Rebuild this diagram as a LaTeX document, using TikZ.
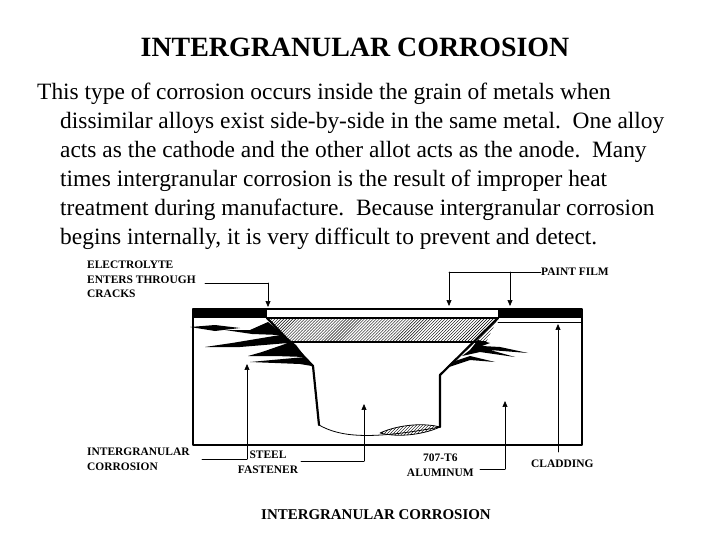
\documentclass[tikz,border=0pt]{standalone}
\usepackage{fontspec}
\setmainfont{Liberation Serif}
\usetikzlibrary{arrows.meta, patterns, positioning}
\tikzset{
  callout/.style={font=\fontsize{11.5}{14.5}\selectfont\bfseries, inner sep=0pt, align=left},
  leader/.style={line width=0.7pt},
  pointer/.style={line width=0.7pt, -{Triangle[length=6pt,width=5pt]}},
  bodyline/.style={font=\fontsize{23.5}{28}\selectfont, anchor=base west, inner sep=0pt}
}
\begin{document}
\begin{tikzpicture}[x=1bp, y=-1bp, line cap=round, line join=round]
    \useasboundingbox (0,0) rectangle (720,540);

    % heading and text
    \node[font=\fontsize{28}{30}\selectfont\bfseries, inner sep=0pt] (title) at (355,47) {INTERGRANULAR CORROSION};
    \node[bodyline] (l1) at (37,100) {This type of corrosion occurs inside the grain of metals when};
    \node[bodyline] (l2) at (60,129) {dissimilar alloys exist side-by-side in the same metal.\ \ One alloy};
    \node[bodyline] (l3) at (60,158) {acts as the cathode and the other allot acts as the anode.\ \ Many};
    \node[bodyline] (l4) at (60,187) {times intergranular corrosion is the result of improper heat};
    \node[bodyline] (l5) at (60,216) {treatment during manufacture.\ \ Because intergranular corrosion};
    \node[bodyline] (l6) at (60,245) {begins internally, it is very difficult to prevent and detect.};

    % the hole
    \coordinate (H1) at (267,318);
    \coordinate (H2) at (313,366);
    \coordinate (H3) at (319,425);
    \coordinate (H4) at (440,427);
    \coordinate (H5) at (440,375);
    \coordinate (H6) at (498,318);

    % hatched filler
    \fill[pattern=north east lines] (H1) -- (H6) -- (486,342) -- (285,342) -- cycle;
    \draw[line width=1.2pt] (285,342) -- (486,342);
    \fill[pattern=north east lines] (380,433) .. controls (400,424) and (425,423) .. (H4)
        .. controls (425,434) and (400,438) .. (380,433);
    \draw[line width=0.8pt] (380,433) .. controls (400,424) and (425,423) .. (H4)
        .. controls (425,434) and (400,438) .. (380,433);

    % hole walls
    \draw[line width=2.2pt] (H1) -- (H2) -- (H3);
    \draw[line width=0.8pt] (H3) .. controls (340,437) and (370,440) .. (H4);
    \draw[line width=2.2pt] (H4) -- (H5) -- (H6);

    % cracks left
    \fill (268,322) -- (250,330) -- (225,330) -- (252,334) -- (280,335) -- (232,343) -- (205,347)
        -- (240,347) -- (288,343) -- (262,352) -- (248,356) -- (275,356) -- (305,357)
        -- (250,362) -- (300,364) -- (312,366) -- (296,345) -- cycle;
    \fill (190,327) -- (215,325) -- (240,328) -- (215,331) -- cycle;
    % cracks right
    \fill (478,340) -- (470,350) -- (462,356) -- (480,352) -- (515,357) -- (490,350) -- (528,353)
        -- (500,347) -- (482,346) -- (490,343) -- cycle;
    \fill (470,356) -- (452,362) -- (446,368) -- (470,360) -- (495,362) -- cycle;

    % block, paint film, cladding
    \draw[line width=2.2pt] (193,309) rectangle (582,445);
    \fill (193,309) rectangle (267,318);
    \fill (498,309) rectangle (582,318);
    \draw[line width=1.2pt] (267,318) -- (498,318);
    \draw[line width=0.8pt] (498,322) -- (582,322);

    % callouts
    \node[callout, anchor=north west] (electro) at (87,261) {ELECTROLYTE\\ENTERS THROUGH\\CRACKS};
    \node[callout, anchor=west] (paint) at (541,272) {PAINT FILM};
    \node[callout, anchor=north west] (inter) at (87,448) {INTERGRANULAR\\CORROSION};
    \node[callout, anchor=north, align=center] (steel) at (268,451) {STEEL\\FASTENER};
    \node[callout, anchor=north east, align=center] (alu) at (474,454) {707-T6\\ALUMINUM};
    \node[callout, anchor=west] (clad) at (531,464) {CLADDING};
    \node[font=\fontsize{15}{17}\selectfont\bfseries, inner sep=0pt] (caption) at (376,515) {INTERGRANULAR CORROSION};

    \coordinate (Ea) at (268,283);
    \coordinate (Pa) at (449,272);
    \coordinate (Pb) at (510,272);
    \coordinate (Ia) at (247,459);
    \coordinate (Sa) at (364,461);
    \coordinate (Aa) at (505,469);

    \draw[leader] (205,283) -- (Ea);
    \draw[pointer] (Ea) -- (268,307);
    \draw[leader] (paint.west) -- (Pa);
    \draw[pointer] (Pa) -- (449,306);
    \draw[pointer] (Pb) -- (510,306);
    \draw[pointer] (558,452) -- (558,324);
    \draw[leader] (202,459) -- (Ia);
    \draw[pointer] (Ia) -- (247,364);
    \draw[leader] (301,461) -- (Sa);
    \draw[pointer] (Sa) -- (364,404);
    \draw[leader] (480,469) -- (Aa);
    \draw[pointer] (Aa) -- (505,401);
\end{tikzpicture}
\end{document}
